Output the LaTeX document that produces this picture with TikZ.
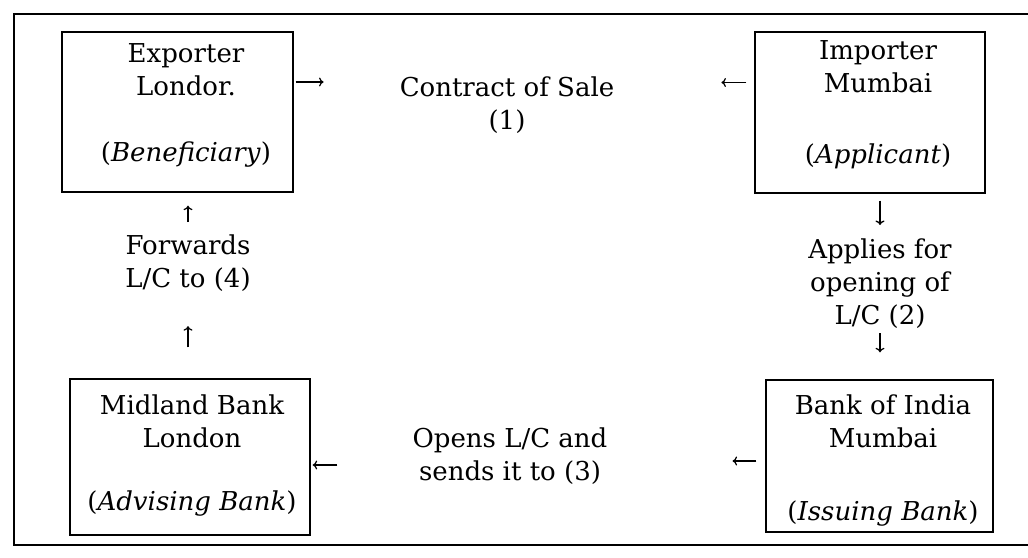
\documentclass[tikz,border=0pt]{standalone}
\usepackage{fontspec}
\setmainfont{DejaVu Serif}
\usetikzlibrary{arrows.meta}
\tikzset{
  box/.style={draw, line width=1.4pt, inner sep=0pt},
  txt/.style={inner sep=0pt, align=center, font=\fontsize{26}{33}\selectfont},
  arr/.style={line width=1.3pt, -{To[length=4.5pt,width=9pt]}},
  frame/.style={line width=2pt},
}
\begin{document}
\begin{tikzpicture}[x=1pt,y=-1pt]
\useasboundingbox (0,0) rectangle (1028,557);
% frame (right side lies outside the picture)
\draw[frame] (1028,14) -- (14,14) -- (14,545) -- (1028,545);
% boxes
\node[box, minimum width=231pt, minimum height=160pt] (exp) at (177.5,112) {};
\node[box, minimum width=230pt, minimum height=161pt] (imp) at (870,112.5) {};
\node[box, minimum width=240pt, minimum height=156pt] (mid) at (190,457) {};
\node[box, minimum width=227pt, minimum height=152pt] (boi) at (879.5,456) {};
% box texts
\node[txt, anchor=north] (expT) at (186,43) {Exporter\\Londor.\\[33pt](\textit{Beneficiary})};
\node[txt, anchor=north] (impT) at (878,40) {Importer\\Mumbai\\[38pt](\textit{Applicant})};
\node[txt, anchor=north] (midT) at (192,395) {Midland Bank\\London\\[30pt](\textit{Advising Bank})};
\node[txt, anchor=north] (boiT) at (883,395) {Bank of India\\Mumbai\\[40pt](\textit{Issuing Bank})};
% step labels
\node[txt, anchor=north] (contract) at (507,77) {Contract of Sale\\(1)};
\node[txt, anchor=north] (appl) at (880,239) {Applies for\\opening of\\L/C (2)};
\node[txt, anchor=north] (opens) at (510,428) {Opens L/C and\\sends it to (3)};
\node[txt, anchor=north] (fwd) at (188,235) {Forwards\\L/C to (4)};
% connectors
\draw[arr, shorten <=2pt, shorten >=76pt] ([yshift=30pt]exp.east) -- ([yshift=30pt]exp.east -| contract.west);
\draw[arr, shorten <=8pt, shorten >=107pt] ([yshift=30pt]imp.west) -- ([yshift=30pt]imp.west -| contract.east);
\draw[arr, shorten <=7pt, shorten >=14pt] (appl.north |- imp.south) -- (appl.north);
\draw[arr, shorten <=4pt, shorten >=27pt] (appl.south) -- (appl.south |- boi.north);
\draw[arr, shorten <=9pt, shorten >=125pt] ([yshift=-5pt]boi.west) -- ([yshift=-5pt]boi.west -| opens.east);
\draw[arr, shorten <=75pt, shorten >=2pt] ([yshift=-8pt]mid.east -| opens.west) -- ([yshift=-8pt]mid.east);
\draw[arr, shorten <=31pt, shorten >=34pt] (fwd.south |- mid.north) -- (fwd.south);
\draw[arr, shorten <=13pt, shorten >=13pt] (fwd.north) -- (fwd.north |- exp.south);
\end{tikzpicture}
\end{document}
